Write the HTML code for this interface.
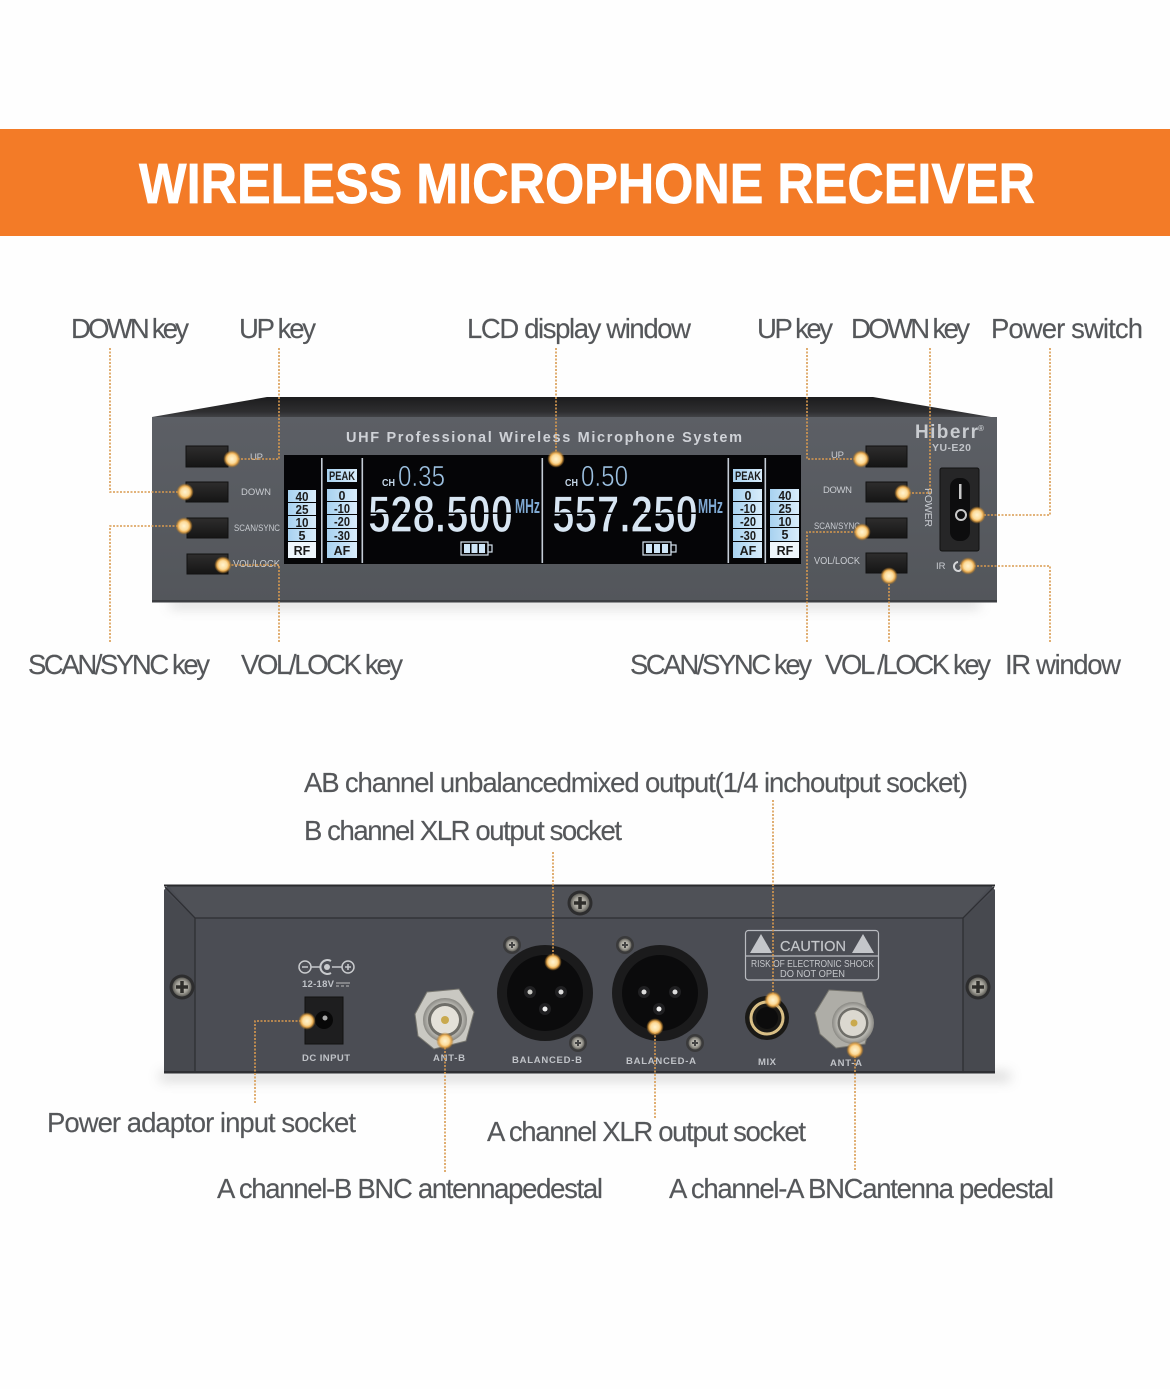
<!DOCTYPE html>
<html lang="en"><head><meta charset="utf-8"><title>Wireless Microphone Receiver</title>
<style>
html,body{margin:0;padding:0;background:#fefefe}
svg{display:block}
text{font-family:"Liberation Sans",sans-serif}
.l{font-size:27.500px;fill:#55575a;stroke:#55575a;stroke-width:.15px}
.k{font-size:9.500px;fill:#c9ccd1}
.b{font-size:9.500px;font-weight:bold;fill:#c0c3c8}
.c{font-size:12.500px;font-weight:bold;fill:#1c1c1c;text-anchor:middle}
.d{fill:none;stroke:#d99a4f;stroke-width:1.600;stroke-dasharray:2 1.500}
.bn{stroke:#111;stroke-width:1;fill:url(#btn)}
</style></head><body>
<svg width="1170" height="1389" viewBox="0 0 1170 1389" xmlns="http://www.w3.org/2000/svg">
<defs>
<radialGradient id="dot"><stop offset="0" stop-color="#fff3cf"/><stop offset=".5" stop-color="#fcdc9c"/><stop offset=".72" stop-color="#e6a94f"/><stop offset="1" stop-color="#a8701f" stop-opacity=".15"/></radialGradient>
<linearGradient id="top" x1="0" y1="0" x2="0" y2="1"><stop offset="0" stop-color="#1c1c1d"/><stop offset=".7" stop-color="#2e2e30"/><stop offset="1" stop-color="#46474b"/></linearGradient>
<linearGradient id="fp" x1="0" y1="0" x2="0" y2="1"><stop offset="0" stop-color="#5c5f65"/><stop offset="1" stop-color="#53565b"/></linearGradient>
<linearGradient id="btn" x1="0" y1="0" x2="0" y2="1"><stop offset="0" stop-color="#2e2d2d"/><stop offset="1" stop-color="#151515"/></linearGradient>
<linearGradient id="cell" x1="0" y1="0" x2="1" y2="0"><stop offset="0" stop-color="#a8d2f0"/><stop offset="1" stop-color="#d8ecfb"/></linearGradient>
<radialGradient id="met"><stop offset="0" stop-color="#d8d5cc"/><stop offset=".65" stop-color="#a09e96"/><stop offset="1" stop-color="#5f5e58"/></radialGradient>
<radialGradient id="bnc"><stop offset="0" stop-color="#f0eee8"/><stop offset=".7" stop-color="#c6c5bf"/><stop offset="1" stop-color="#8a8984"/></radialGradient>
<filter id="bl" x="-10%" y="-300%" width="120%" height="700%"><feGaussianBlur stdDeviation="6"/></filter>
</defs>
<rect width="1170" height="1389" fill="#fefefe"/>
<rect y="129" width="1170" height="107" fill="#f37b27"/>
<text x="139" y="203" font-size="57" font-weight="bold" fill="#fff" stroke="#fff" stroke-width=".7" textLength="896" lengthAdjust="spacingAndGlyphs">WIRELESS MICROPHONE RECEIVER</text>

<!-- FRONT -->
<rect x="170" y="600" width="810" height="8" fill="#999" opacity=".4" filter="url(#bl)"/>
<polygon points="152,417 267,397 873,397 997,418" fill="url(#top)"/>
<rect x="152" y="417" width="845" height="185" fill="url(#fp)"/>
<rect x="152" y="600" width="845" height="2.500" fill="#3c3e42"/>
<text x="346" y="442" font-size="14.500" font-weight="bold" fill="#cfd2d7" textLength="396" lengthAdjust="spacing">UHF Professional Wireless Microphone System</text>
<text x="915" y="438" font-size="19" font-weight="bold" fill="#c9ccd0" textLength="63" lengthAdjust="spacing">Hiberr</text><text x="978" y="431" font-size="8" font-weight="bold" fill="#c9ccd0">®</text>
<text x="932" y="451" font-size="10.500" font-weight="bold" fill="#c0c3c8" textLength="39" lengthAdjust="spacing">YU-E20</text>
<rect class="bn" x="186" y="446" width="42" height="21"/>
<rect class="bn" x="186" y="482" width="42" height="20"/>
<rect class="bn" x="187" y="518" width="41" height="20"/>
<rect class="bn" x="187" y="554" width="41" height="20"/>
<rect class="bn" x="866" y="446" width="41" height="21"/>
<rect class="bn" x="866" y="482" width="41" height="20"/>
<rect class="bn" x="866" y="518" width="41" height="20"/>
<rect class="bn" x="866" y="553" width="41" height="20"/>
<text class="k" x="250" y="460" textLength="13">UP</text>
<text class="k" x="241" y="495" textLength="30">DOWN</text>
<text class="k" x="234" y="531" textLength="46" lengthAdjust="spacingAndGlyphs">SCAN/SYNC</text>
<text class="k" x="233" y="567" textLength="47" lengthAdjust="spacingAndGlyphs" style="font-size:10.500px">VOL/LOCK</text>
<text class="k" x="831" y="458" textLength="13">UP</text>
<text class="k" x="823" y="493" textLength="29">DOWN</text>
<text class="k" x="814" y="529" textLength="46" lengthAdjust="spacingAndGlyphs">SCAN/SYNC</text>
<text class="k" x="814" y="564" textLength="46" lengthAdjust="spacingAndGlyphs" style="font-size:10.500px">VOL/LOCK</text>
<text class="k" x="936" y="569">IR</text>
<text class="k" transform="translate(925,488) rotate(90)" textLength="39" style="font-size:10.500px">POWER</text>
<path d="M958 562a4 4 0 1 0 1 9a3.500 3.500 0 0 0 1-6" fill="none" stroke="#d5d6d8" stroke-width="2"/>
<!-- switch -->
<rect x="940" y="468" width="39" height="83" rx="2" fill="#262627" stroke="#111"/>
<rect x="950" y="478" width="20" height="63" rx="9" fill="#0d0d0e"/>
<rect x="959" y="484" width="2.500" height="15" fill="#c9c9c9"/>
<circle cx="961" cy="515" r="5" fill="none" stroke="#c9c9c9" stroke-width="2"/>

<!-- LCD -->
<rect x="284" y="455" width="517" height="109" fill="#050507"/>
<g fill="#c4ccd6">
<rect x="321" y="458" width="1.600" height="105"/><rect x="361.500" y="458" width="1.600" height="105"/>
<rect x="541.500" y="458" width="1.600" height="105"/><rect x="727.500" y="458" width="1.600" height="105"/><rect x="764.500" y="458" width="1.600" height="105"/>
</g>
<g fill="url(#cell)">
<rect x="288" y="490" width="28" height="12"/><rect x="288" y="503" width="28" height="12"/><rect x="288" y="516" width="28" height="12"/><rect x="288" y="529" width="28" height="12"/>
<rect x="327" y="469" width="30" height="13"/>
<rect x="327" y="489" width="30" height="12"/><rect x="327" y="502" width="30" height="12"/><rect x="327" y="515" width="30" height="13"/><rect x="327" y="529" width="30" height="12"/><rect x="327" y="542" width="30" height="16"/>
<rect x="733" y="469" width="29" height="13"/>
<rect x="733" y="489" width="29" height="12"/><rect x="733" y="502" width="29" height="12"/><rect x="733" y="515" width="29" height="13"/><rect x="733" y="529" width="29" height="12"/><rect x="733" y="542" width="29" height="16"/>
<rect x="770" y="489" width="29" height="12"/><rect x="770" y="502" width="29" height="12"/><rect x="770" y="515" width="29" height="12"/><rect x="770" y="528" width="29" height="13"/>
</g>
<rect x="288" y="542" width="28" height="16" fill="#eef6fc"/><rect x="770" y="542" width="29" height="16" fill="#eef6fc"/>
<text class="c" x="302" y="501" textLength="13" lengthAdjust="spacingAndGlyphs">40</text><text class="c" x="302" y="514" textLength="13" lengthAdjust="spacingAndGlyphs">25</text><text class="c" x="302" y="527" textLength="13" lengthAdjust="spacingAndGlyphs">10</text><text class="c" x="302" y="540">5</text><text class="c" x="302" y="555">RF</text>
<text class="c" x="342" y="480" style="font-size:12px" textLength="26" lengthAdjust="spacingAndGlyphs">PEAK</text>
<text class="c" x="342" y="500">0</text><text class="c" x="342" y="513" textLength="16" lengthAdjust="spacingAndGlyphs">-10</text><text class="c" x="342" y="526" textLength="16" lengthAdjust="spacingAndGlyphs">-20</text><text class="c" x="342" y="540" textLength="16" lengthAdjust="spacingAndGlyphs">-30</text><text class="c" x="342" y="555">AF</text>
<text class="c" x="748" y="480" style="font-size:12px" textLength="26" lengthAdjust="spacingAndGlyphs">PEAK</text>
<text class="c" x="748" y="500">0</text><text class="c" x="748" y="513" textLength="16" lengthAdjust="spacingAndGlyphs">-10</text><text class="c" x="748" y="526" textLength="16" lengthAdjust="spacingAndGlyphs">-20</text><text class="c" x="748" y="540" textLength="16" lengthAdjust="spacingAndGlyphs">-30</text><text class="c" x="748" y="555">AF</text>
<text class="c" x="785" y="500" textLength="13" lengthAdjust="spacingAndGlyphs">40</text><text class="c" x="785" y="513" textLength="13" lengthAdjust="spacingAndGlyphs">25</text><text class="c" x="785" y="526" textLength="13" lengthAdjust="spacingAndGlyphs">10</text><text class="c" x="785" y="539">5</text><text class="c" x="785" y="555">RF</text>
<g fill="#d8e6f3" stroke="#050507" stroke-width="1.300" font-weight="bold">
<text x="368" y="532" font-size="52" textLength="145" lengthAdjust="spacingAndGlyphs">528.500</text>
<text x="552" y="532" font-size="52" textLength="146" lengthAdjust="spacingAndGlyphs">557.250</text>
</g>
<rect x="366" y="512.500" width="148" height="1.500" fill="#050507"/><rect x="550" y="512.500" width="148" height="1.500" fill="#050507"/>
<g fill="#9cc0e0" stroke="#050507" stroke-width=".6">
<text x="398" y="486" font-size="29" textLength="47" lengthAdjust="spacingAndGlyphs">0.35</text>
<text x="581" y="486" font-size="29" textLength="47" lengthAdjust="spacingAndGlyphs">0.50</text>
</g>
<g fill="#c5d7e8" font-size="10.500" font-weight="bold"><text x="382" y="486" textLength="13" lengthAdjust="spacingAndGlyphs">CH</text><text x="565" y="486" textLength="13" lengthAdjust="spacingAndGlyphs">CH</text></g>
<g fill="#7fa9d2" font-weight="bold" font-size="20"><text x="515" y="513" textLength="25" lengthAdjust="spacingAndGlyphs">MHz</text><text x="698" y="513" textLength="25" lengthAdjust="spacingAndGlyphs">MHz</text></g>
<g fill="none" stroke="#d5e2ef" stroke-width="1.200"><rect x="461" y="542" width="27" height="13"/><rect x="488" y="545" width="4" height="7"/><rect x="643" y="542" width="28" height="13"/><rect x="671" y="545" width="5" height="7"/></g>
<g fill="#cfe6f8"><rect x="464" y="544" width="6" height="9"/><rect x="471.500" y="544" width="6" height="9"/><rect x="479" y="544" width="6" height="9"/><rect x="646" y="544" width="6" height="9"/><rect x="654" y="544" width="6" height="9"/><rect x="662" y="544" width="6" height="9"/></g>

<!-- REAR -->
<rect x="160" y="1072" width="850" height="9" fill="#999" opacity=".4" filter="url(#bl)"/>
<polygon points="168,885 991,885 995,890 995,1073 164,1073 164,890" fill="#4b4d54"/>
<polygon points="168,885 991,885 963,918 195,918" fill="#4f5157"/>
<polygon points="164,890 195,918 195,1073 164,1073" fill="#47494f"/>
<polygon points="995,890 963,918 963,1073 995,1073" fill="#47494f"/>
<rect x="164" y="884.500" width="831" height="2" fill="#2a2b2e"/>
<path d="M165 887L195 918H963L994 887M195 918V1072M963 918V1072" fill="none" stroke="#2e2f33" stroke-width="1.300"/>
<rect x="164" y="1071" width="831" height="2.500" fill="#2f3034"/>
<circle cx="182" cy="987" r="12.500" fill="#2d2d2e"/><circle cx="182" cy="987" r="9.500" fill="url(#met)"/><path d="M176 987h12M182 981v12" stroke="#2f2e2b" stroke-width="3.500"/>
<circle cx="580" cy="903" r="12.500" fill="#2d2d2e"/><circle cx="580" cy="903" r="9.500" fill="url(#met)"/><path d="M574 903h12M580 897v12" stroke="#2f2e2b" stroke-width="3.500"/>
<circle cx="978" cy="987" r="12.500" fill="#2d2d2e"/><circle cx="978" cy="987" r="9.500" fill="url(#met)"/><path d="M972 987h12M978 981v12" stroke="#2f2e2b" stroke-width="3.500"/>
<!-- XLR -->
<circle cx="545" cy="993" r="48" fill="#1b1b1c"/><circle cx="545" cy="993" r="38" fill="#0b0b0c"/><circle cx="530" cy="992" r="6" fill="#202022"/><circle cx="561" cy="992" r="6" fill="#202022"/><circle cx="545" cy="1009" r="6" fill="#202022"/><circle cx="530" cy="992" r="2.500" fill="#c9c9c4"/><circle cx="561" cy="992" r="2.500" fill="#ddd"/><circle cx="545" cy="1009" r="2.500" fill="#eee"/>
<circle cx="660" cy="993" r="48" fill="#1b1b1c"/><circle cx="660" cy="993" r="38" fill="#0b0b0c"/><circle cx="644" cy="992" r="6" fill="#202022"/><circle cx="675" cy="992" r="6" fill="#202022"/><circle cx="659" cy="1009" r="6" fill="#202022"/><circle cx="644" cy="992" r="2.500" fill="#ddd"/><circle cx="675" cy="992" r="2.500" fill="#ddd"/><circle cx="659" cy="1009" r="2.500" fill="#eee"/>
<circle cx="512" cy="945" r="9" fill="#3a3a3b"/><circle cx="512" cy="945" r="6.500" fill="url(#met)"/><path d="M509 945h6M512 942v6" stroke="#444" stroke-width="2"/>
<circle cx="625" cy="945" r="9" fill="#3a3a3b"/><circle cx="625" cy="945" r="6.500" fill="url(#met)"/><path d="M622 945h6M625 942v6" stroke="#444" stroke-width="2"/>
<circle cx="578" cy="1043" r="9" fill="#3a3a3b"/><circle cx="578" cy="1043" r="6.500" fill="url(#met)"/><path d="M575 1043h6M578 1040v6" stroke="#444" stroke-width="2"/>
<circle cx="695" cy="1043" r="9" fill="#3a3a3b"/><circle cx="695" cy="1043" r="6.500" fill="url(#met)"/><path d="M692 1043h6M695 1040v6" stroke="#444" stroke-width="2"/>
<!-- BNC -->
<polygon points="415,1014 427,992 459,989 474,1012 466,1041 434,1049 418,1036" fill="#c9c8c2" stroke="#77766f"/>
<circle cx="445" cy="1020" r="22" fill="url(#bnc)"/><circle cx="445" cy="1020" r="17" fill="#6f6e69"/><circle cx="445" cy="1020" r="14" fill="#e4e1d9"/><circle cx="445" cy="1020" r="4" fill="#c9a94e"/>
<polygon points="815,1013 829,990 862,992 871,1022 865,1044 836,1048 820,1034" fill="#aeada7" stroke="#77766f"/>
<circle cx="853" cy="1023" r="21" fill="url(#bnc)"/><circle cx="853" cy="1023" r="15.500" fill="#6f6e69"/><circle cx="853" cy="1023" r="13" fill="#dbd8d0"/><circle cx="854" cy="1023" r="3.500" fill="#c9a94e"/>
<!-- MIX -->
<circle cx="767" cy="1018" r="22" fill="#1a1916"/><circle cx="767" cy="1018" r="16" fill="none" stroke="#d9bf85" stroke-width="3"/><circle cx="767" cy="1018" r="11" fill="#0c0c0c"/>
<!-- DC -->
<g fill="none" stroke="#c8cacd" stroke-width="1.500"><circle cx="305" cy="967" r="6"/><circle cx="348" cy="967" r="6"/><path d="M311 967h9M332 967h10M302 967h6M345 967h6M348 964v6"/><path d="M331 961a7 7 0 1 0 0 12" stroke-width="2"/></g><circle cx="327" cy="967" r="3" fill="#c8cacd"/>
<text class="b" x="302" y="987" textLength="32">12-18V</text>
<path d="M336 983h14M336 986h3M341 986h3M346 986h3" stroke="#bbb" fill="none"/>
<rect x="305" y="997" width="38" height="47" fill="#1e1e1f" stroke="#111"/>
<circle cx="324" cy="1020" r="9" fill="#080808"/><circle cx="325" cy="1018" r="2.500" fill="#aaa"/>
<text class="b" x="302" y="1061" textLength="48">DC INPUT</text>
<text class="b" x="433" y="1061" textLength="32">ANT-B</text>
<text class="b" x="512" y="1063" textLength="70">BALANCED-B</text>
<text class="b" x="626" y="1064" textLength="70">BALANCED-A</text>
<text class="b" x="758" y="1065" textLength="18">MIX</text>
<text class="b" x="830" y="1066" textLength="32">ANT-A</text>
<!-- caution -->
<rect x="745.500" y="930.500" width="133" height="49.500" rx="3" fill="none" stroke="#b9bbc0" stroke-width="1.200"/>
<path d="M746 956h132" stroke="#b9bbc0" stroke-width="1.200"/>
<polygon points="761,934 772,953 750,953" fill="#c4c6ca"/><polygon points="863,934 874,953 852,953" fill="#c4c6ca"/>
<text x="780" y="951" font-size="14.500" fill="#c4c6ca" stroke="#c4c6ca" stroke-width=".2" textLength="66">CAUTION</text>
<text x="751" y="967" font-size="10" fill="#c4c6ca" textLength="123" lengthAdjust="spacingAndGlyphs">RISK OF ELECTRONIC SHOCK</text>
<text x="780" y="977" font-size="10" fill="#c4c6ca" textLength="65" lengthAdjust="spacingAndGlyphs">DO NOT OPEN</text>

<!-- leaders -->
<path class="d" d="M110 348V492H185"/><path class="d" d="M279 348V459H232"/><path class="d" d="M556 348V459"/>
<path class="d" d="M807 348V459H861"/><path class="d" d="M930 348V493H903"/><path class="d" d="M1050 348V515H977"/>
<path class="d" d="M110 642V526H184"/><path class="d" d="M279 642V565H223"/><path class="d" d="M807 642V532H862"/>
<path class="d" d="M889 642V576"/><path class="d" d="M1050 642V566H968"/>
<path class="d" d="M255 1103V1021H307"/><path class="d" d="M445 1172V1041"/><path class="d" d="M553 852V962"/>
<path class="d" d="M655 1118V1027"/><path class="d" d="M773 800V1000"/><path class="d" d="M855 1170V1050"/>
<g fill="url(#dot)">
<circle cx="185" cy="492" r="8.500"/><circle cx="232" cy="459" r="8.500"/><circle cx="556" cy="459" r="8.500"/><circle cx="861" cy="459" r="8.500"/><circle cx="903" cy="493" r="8.500"/><circle cx="977" cy="515" r="8.500"/>
<circle cx="184" cy="526" r="8.500"/><circle cx="223" cy="565" r="8.500"/><circle cx="862" cy="532" r="8.500"/><circle cx="889" cy="576" r="8.500"/><circle cx="968" cy="566" r="8.500"/>
<circle cx="307" cy="1021" r="8.500"/><circle cx="445" cy="1041" r="8.500"/><circle cx="553" cy="962" r="8.500"/><circle cx="655" cy="1027" r="8.500"/><circle cx="773" cy="1000" r="8.500"/><circle cx="855" cy="1050" r="8.500"/>
</g>

<!-- labels -->
<text class="l" x="71" y="338" textLength="118" lengthAdjust="spacing">DOWN key</text>
<text class="l" x="239" y="338" textLength="77" lengthAdjust="spacing">UP key</text>
<text class="l" x="467" y="338" textLength="224" lengthAdjust="spacing">LCD display window</text>
<text class="l" x="757" y="338" textLength="76" lengthAdjust="spacing">UP key</text>
<text class="l" x="851" y="338" textLength="119" lengthAdjust="spacing">DOWN key</text>
<text class="l" x="991" y="338" textLength="152" lengthAdjust="spacing">Power switch</text>
<text class="l" x="28" y="674" textLength="182" lengthAdjust="spacing">SCAN/SYNC key</text>
<text class="l" x="241" y="674" textLength="162" lengthAdjust="spacing">VOL/LOCK key</text>
<text class="l" x="630" y="674" textLength="182" lengthAdjust="spacing">SCAN/SYNC key</text>
<text class="l" x="825" y="674" textLength="166" lengthAdjust="spacing">VOL /LOCK key</text>
<text class="l" x="1005" y="674" textLength="116" lengthAdjust="spacing">IR window</text>
<text class="l" x="304" y="792" textLength="664" lengthAdjust="spacing">AB channel unbalancedmixed output(1/4 inchoutput socket)</text>
<text class="l" x="304" y="840" textLength="318" lengthAdjust="spacing">B channel XLR output socket</text>
<text class="l" x="47" y="1132" textLength="309" lengthAdjust="spacing">Power adaptor input socket</text>
<text class="l" x="487" y="1141" textLength="319" lengthAdjust="spacing">A channel XLR output socket</text>
<text class="l" x="217" y="1198" textLength="386" lengthAdjust="spacing">A channel-B BNC antennapedestal</text>
<text class="l" x="669" y="1198" textLength="385" lengthAdjust="spacing">A channel-A BNCantenna pedestal</text>
</svg>
</body></html>
